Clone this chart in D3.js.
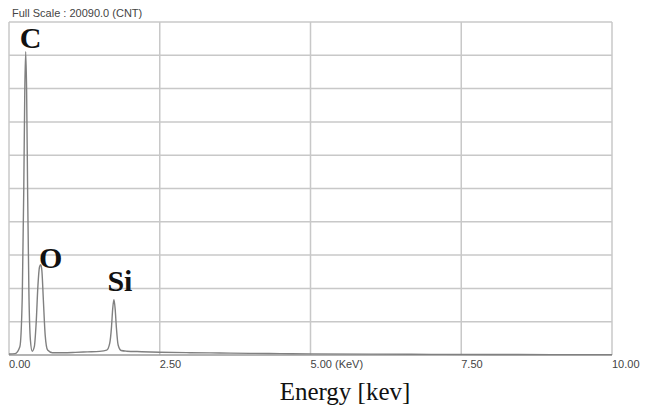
<!DOCTYPE html>
<html>
<head>
<meta http-equiv="content-type" content="text/html; charset=UTF8">
<script src="https://cdn.jsdelivr.net/npm/d3@7"></script>
<style>
body {
	margin: 0;
	background: #fff;
}
.chart {
	width: 648px;
	height: 412px;
	display: block;
}
</style>
</head>
<body>
<svg class="chart"></svg>
</body>
<script>
// spectrum: energy (keV) and counts
var energy = [0.00, 0.10, 0.18, 0.22, 0.245, 0.262, 0.277, 0.292, 0.31, 0.33, 0.355, 0.385,
	0.42, 0.45, 0.48, 0.505, 0.525, 0.545, 0.57, 0.60, 0.64, 0.72, 0.90, 1.10, 1.30,
	1.50, 1.62, 1.67, 1.70, 1.72, 1.74, 1.76, 1.78, 1.81, 1.86, 1.95, 2.20, 2.50, 3.00,
	3.50, 4.00, 4.50, 5.00, 6.00, 7.00, 8.00, 9.00, 10.00];
var counts = [60, 80, 500, 3500, 10000, 16000, 18300, 16000, 9500, 3800, 900, 230,
	500, 1900, 4200, 5300, 5450, 5100, 3300, 1200, 300, 140, 140, 160, 190,
	220, 290, 700, 1700, 2800, 3330, 2800, 1700, 600, 270, 230, 200, 170, 140,
	120, 100, 85, 70, 50, 40, 30, 25, 20];

var xTicks = [0, 2.5, 5, 7.5, 10];
var xTickLabels = ["0.00", "2.50", "5.00 (KeV)", "7.50", "10.00"];
var fullScale = 20090;
var yGridCount = 10;

var peakNames = ["C", "O", "Si"];
var peakEnergy = [0.277, 0.525, 1.74];
var peakLabelCounts = [18500, 5250, 3860];

var plotLeft = 9, plotRight = 612, plotTop = 22, plotBottom = 355;

var svg = d3.select(".chart");

var x = d3.scaleLinear()
	.domain([0, 10])
	.range([plotLeft, plotRight]);

var y = d3.scaleLinear()
	.domain([0, fullScale])
	.range([plotBottom, plotTop]);

// grid
svg.append("g")
	.selectAll("line")
	.data(d3.range(1, yGridCount + 1))
	.enter()
	.append("line")
	.attr("x1", plotLeft)
	.attr("x2", plotRight)
	.attr("y1", function(d) { return y(fullScale * d / yGridCount); })
	.attr("y2", function(d) { return y(fullScale * d / yGridCount); })
	.attr("stroke", "#c8c8c8")
	.attr("stroke-width", 1.5);

svg.append("g")
	.selectAll("line")
	.data(xTicks)
	.enter()
	.append("line")
	.attr("x1", function(d) { return x(d); })
	.attr("x2", function(d) { return x(d); })
	.attr("y1", plotTop)
	.attr("y2", plotBottom)
	.attr("stroke", "#c8c8c8")
	.attr("stroke-width", 1.5);

// bottom axis line
svg.append("line")
	.attr("x1", plotLeft)
	.attr("x2", plotRight)
	.attr("y1", plotBottom)
	.attr("y2", plotBottom)
	.attr("stroke", "#9a9a9a")
	.attr("stroke-width", 1.5);

// tick labels
svg.append("g")
	.selectAll("text")
	.data(xTicks)
	.enter()
	.append("text")
	.attr("x", function(d) { return x(d); })
	.attr("y", 368)
	.attr("font-family", "Liberation Sans, Arial, sans-serif")
	.attr("font-size", 11)
	.attr("fill", "#444")
	.text(function(d, i) { return xTickLabels[i]; });

// spectrum
var points = energy.map(function(e, i) { return [e, counts[i]]; });

var line = d3.line()
	.x(function(d) { return x(d[0]); })
	.y(function(d) { return y(d[1]); })
	.curve(d3.curveMonotoneX);

svg.append("path")
	.datum(points)
	.attr("d", line)
	.attr("fill", "none")
	.attr("stroke", "#808080")
	.attr("stroke-width", 1.4);

// element labels
svg.append("g")
	.selectAll("text")
	.data(peakNames)
	.enter()
	.append("text")
	.attr("x", function(d, i) { return x(peakEnergy[i]) + [5, 10, 6][i]; })
	.attr("y", function(d, i) { return y(peakLabelCounts[i]); })
	.attr("text-anchor", "middle")
	.attr("font-family", "Liberation Serif, Times New Roman, serif")
	.attr("font-weight", "bold")
	.attr("font-size", 30)
	.attr("fill", "#111")
	.text(function(d) { return d; });

svg.append("text")
	.attr("x", 12)
	.attr("y", 17)
	.attr("font-family", "Liberation Sans, Arial, sans-serif")
	.attr("font-size", 11)
	.attr("fill", "#444")
	.text("Full Scale : " + fullScale.toFixed(1) + " (CNT)");

svg.append("text")
	.attr("x", 345)
	.attr("y", 400)
	.attr("text-anchor", "middle")
	.attr("font-family", "Liberation Serif, Times New Roman, serif")
	.attr("font-size", 25)
	.attr("fill", "#111")
	.text("Energy [kev]");

</script>
</html>
